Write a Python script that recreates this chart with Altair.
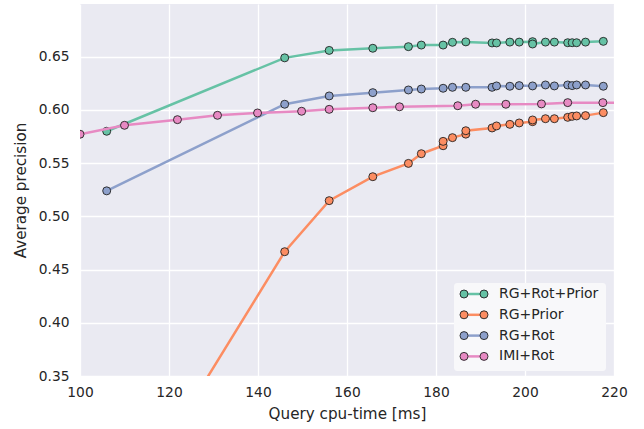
import altair as alt
import pandas as pd

# ---- data ----
series_names = ["RG+Rot+Prior", "RG+Prior", "RG+Rot", "IMI+Rot"]
series_colors = ["#66c2a5", "#fc8d62", "#8da0cb", "#e78ac3"]

green_x = [106, 146, 156, 165.8, 173.8, 176.7, 181.6, 183.7, 186.7, 192.6, 193.6, 196.6,
           198.7, 201.7, 201.7, 204.6, 206.6, 209.6, 210.6, 211.6, 213.6, 217.6]
green_y = [0.580, 0.649, 0.656, 0.658, 0.6595, 0.661, 0.661, 0.6636, 0.664, 0.663, 0.663, 0.6638,
           0.6638, 0.6642, 0.662, 0.6638, 0.6638, 0.6632, 0.6632, 0.6632, 0.6638, 0.6645]

orange_x = [106, 146, 156, 165.8, 173.8, 176.7, 181.6, 181.6, 183.7, 186.7, 186.7, 192.6, 193.6,
            196.6, 198.7, 201.7, 201.7, 204.6, 206.6, 209.6, 210.6, 211.6, 213.6, 217.6]
orange_y = [0.195, 0.4668, 0.5148, 0.5373, 0.5498, 0.5589, 0.5664, 0.5705, 0.574, 0.5773, 0.5805,
            0.5831, 0.585, 0.5865, 0.5878, 0.589, 0.5906, 0.5918, 0.5918, 0.5931, 0.594, 0.5944,
            0.5947, 0.5975]

blue_x = [106, 146, 156, 165.8, 173.8, 176.7, 181.6, 183.7, 186.7, 192.6, 193.6, 196.6, 198.7,
          201.7, 204.6, 206.6, 209.6, 210.6, 211.6, 213.6, 217.6]
blue_y = [0.524, 0.6054, 0.6132, 0.6163, 0.6188, 0.6197, 0.6204, 0.6213, 0.6213, 0.6213, 0.6226,
          0.6223, 0.6229, 0.6226, 0.6235, 0.6226, 0.6235, 0.6229, 0.6235, 0.6235, 0.6223]

pink_x = [100, 110, 121.9, 130.9, 139.9, 149.8, 156, 165.8, 171.8, 184.9, 188.9, 195.7, 203.7,
          209.6, 217.5, 223]
pink_y = [0.5772, 0.5856, 0.5909, 0.595, 0.5972, 0.5988, 0.6006, 0.6021, 0.603, 0.604, 0.6054,
          0.6054, 0.6057, 0.6069, 0.6069, 0.6068]

x_ticks = [100, 120, 140, 160, 180, 200, 220]
y_ticks = [0.35, 0.40, 0.45, 0.50, 0.55, 0.60, 0.65]

# ---- build table ----
rows = []
for name, xs, ys in zip(series_names,
                        [green_x, orange_x, blue_x, pink_x],
                        [green_y, orange_y, blue_y, pink_y]):
    for i, (x, y) in enumerate(zip(xs, ys)):
        rows.append({"series": name, "x": x, "y": y, "order": i})
df = pd.DataFrame(rows)

FONT = "DejaVu Sans"
TXT = "#262626"
W, H = 534, 372
YMIN, YMAX = 0.35, 0.6996
FS = 13.8
TFS = 15.2

xscale = alt.Scale(domain=[100, 220], nice=False, zero=False)
yscale = alt.Scale(domain=[YMIN, YMAX], nice=False, zero=False)
cscale = alt.Scale(domain=series_names, range=series_colors)

xaxis = alt.Axis(values=x_ticks, format="d", title="Query cpu-time [ms]", grid=True,
                 gridColor="white", gridWidth=1.3, domain=False, ticks=False,
                 labelPadding=9, titlePadding=8, labelFontSize=FS, titleFontSize=TFS,
                 labelColor=TXT, titleColor=TXT, labelFont=FONT, titleFont=FONT,
                 titleFontWeight="normal", labelFlush=False)
yaxis = alt.Axis(values=y_ticks, format=".2f", title="Average precision", grid=True,
                 gridColor="white", gridWidth=1.3, domain=False, ticks=False,
                 labelPadding=11, titlePadding=10, labelFontSize=FS, titleFontSize=TFS,
                 labelColor=TXT, titleColor=TXT, labelFont=FONT, titleFont=FONT,
                 titleFontWeight="normal", labelFlush=False)

X = alt.X("x:Q", scale=xscale, axis=xaxis)
Y = alt.Y("y:Q", scale=yscale, axis=yaxis)

layers = []
for name in series_names:
    base = alt.Chart(df).transform_filter(alt.datum.series == name)
    line = base.mark_line(strokeWidth=2.5, clip=True).encode(
        x=X, y=Y,
        color=alt.Color("series:N", scale=cscale, legend=None),
        order=alt.Order("order:Q"),
    )
    pts = base.mark_point(filled=True, size=64, stroke="#222222", strokeWidth=0.9,
                          opacity=1, clip=True).encode(
        x=X, y=Y,
        fill=alt.Fill("series:N", scale=cscale, legend=None),
    )
    layers += [line, pts]

# ---- custom legend (line with two markers), placed in pixel layout ----
leg = pd.DataFrame({"series": series_names, "i": list(range(len(series_names)))})
legbase = alt.Chart(leg).transform_calculate(
    ypx="290 + datum.i * 20.8"
).transform_calculate(
    y=f"{YMIN} + ({H} - datum.ypx) / {H} * ({YMAX} - {YMIN})"
)

legbox = alt.Chart(pd.DataFrame({"a": [0]})).mark_rect(
    fill="#F8F8FA", cornerRadius=3).encode(
    x=alt.value(374), x2=alt.value(526), y=alt.value(279), y2=alt.value(367))
legline = legbase.mark_rule(strokeWidth=2.5).encode(
    x=alt.value(384), x2=alt.value(404), y=Y,
    color=alt.Color("series:N", scale=cscale, legend=None))
legp1 = legbase.mark_point(filled=True, size=64, stroke="#222222", strokeWidth=0.9,
                           opacity=1).encode(
    x=alt.value(384), y=Y, fill=alt.Fill("series:N", scale=cscale, legend=None))
legp2 = legbase.mark_point(filled=True, size=64, stroke="#222222", strokeWidth=0.9,
                           opacity=1).encode(
    x=alt.value(404), y=Y, fill=alt.Fill("series:N", scale=cscale, legend=None))
legtxt = legbase.mark_text(align="left", baseline="middle", font=FONT, fontSize=14,
                           color=TXT).encode(
    x=alt.value(419), y=Y, text="series:N")

chart = alt.layer(*layers, legbox, legline, legp1, legp2, legtxt).properties(
    width=W, height=H,
    background="white",
    autosize=alt.AutoSizeParams(type="none"),
    padding={"left": 80, "top": 4, "right": 30, "bottom": 53},
).configure_view(fill="#EAEAF2", stroke=None)

chart.save("out.html", embed_options={"renderer": "svg", "actions": False})
